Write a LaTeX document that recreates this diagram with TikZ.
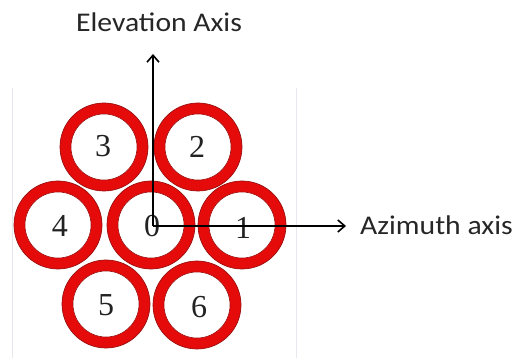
\documentclass[tikz,border=0pt]{standalone}
\usepackage{fontspec}
\setmainfont{Liberation Serif}
\newfontfamily\labelfont{Carlito}
\usetikzlibrary{arrows.meta}
\definecolor{ringred}{HTML}{E60B0B}
\definecolor{ringedge}{HTML}{9A1010}
\definecolor{frameline}{HTML}{E6E8EE}
\definecolor{digitgray}{HTML}{222222}
\tikzset{
  ring/.style={circle, draw=ringedge, line width=0.7pt, fill=ringred,
    minimum size=88pt, inner sep=0pt},
  hole/.style={circle, draw=ringedge, line width=0.6pt, fill=white,
    minimum size=66pt, inner sep=0pt},
  digit/.style={inner sep=0pt, text=digitgray,
    font=\fontsize{32}{32}\selectfont},
  axisarrow/.style={line width=1.6pt, black,
    -{Straight Barb[length=7pt, width=12pt, line width=1.6pt]}},
  axislabel/.style={font=\labelfont\fontsize{27}{27}\selectfont,
    inner sep=0pt, xscale=1.1, text=black!85}
}
\begin{document}
\begin{tikzpicture}[x=1pt, y=-1pt]
  \useasboundingbox (0,0) rectangle (512,358);
  % faint frame of the beam pattern panel
  \draw[frameline, line width=1pt] (12,88) -- (12,358);
  \draw[frameline, line width=1pt] (296,88) -- (296,358);
  % seven feed rings in a hexagonal cluster, with their numbers
  \foreach \n/\x/\y/\dx/\dy in {0/151/225/152/226, 1/242/225/243/228,
      2/198/147/197/147, 3/104/147/103/146, 4/58/225/60/226,
      5/106/304/106/305, 6/197/305/199/307}{
    \node[ring] (r\n) at (\x,\y) {};
    \node[hole] (h\n) at (\x,\y) {};
    \node[digit] (d\n) at (\dx,\dy) {\n};
  }
  % axes from the centre of ring 0
  \coordinate (origin) at (153,226);
  \coordinate (eltip) at (153,54);
  \coordinate (aztip) at (346,226);
  \draw[axisarrow] (origin) -- (eltip);
  \draw[axisarrow] (origin) -- (aztip);
  \node[axislabel, anchor=base] (ellabel) at (159,32) {Elevation Axis};
  \node[axislabel, anchor=base west] (azlabel) at (360,235) {Azimuth axis};
\end{tikzpicture}
\end{document}
